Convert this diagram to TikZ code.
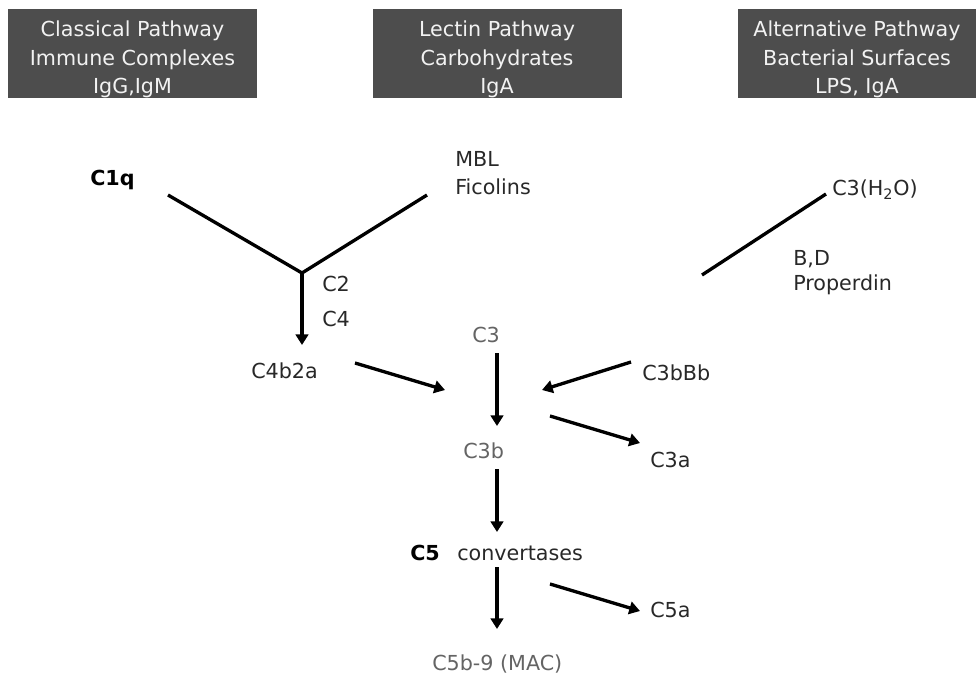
\documentclass[tikz,border=0pt]{standalone}
\usepackage{fontspec}
\setmainfont{DejaVu Sans}
\usetikzlibrary{arrows.meta,positioning}
\definecolor{BoxGray}{RGB}{77,77,77}
\definecolor{HeadInk}{RGB}{242,242,242}
\definecolor{InkDark}{RGB}{40,40,40}
\definecolor{InkGray}{RGB}{100,100,100}
\tikzset{
  headbox/.style={fill=BoxGray,inner sep=0pt,minimum height=66.75pt},
  headtext/.style={text=HeadInk,align=center,inner sep=0pt,
    font=\fontsize{15.5}{21.5}\selectfont},
  lbl/.style={anchor=base west,inner sep=0pt,text=InkDark,
    font=\fontsize{15.5}{20}\selectfont},
  lblgray/.style={lbl,text=InkGray},
  lblbold/.style={lbl,text=black,font=\fontsize{15.5}{20}\selectfont\bfseries},
  link/.style={line width=2.5pt},
  flow/.style={link,-{Triangle[length=8pt,width=9.5pt]}}
}

\begin{document}
\begin{tikzpicture}[x=0.75pt,y=-0.75pt]
  \useasboundingbox (0,0) rectangle (976,679);
  % pathway headers
  \node[headbox,minimum width=186.75pt] (classical) at (132.5,53.5) {};
  \node[headbox,minimum width=186.75pt] (lectin) at (497,53.5) {};
  \node[headbox,minimum width=178.5pt] (alternative) at (857,53.5) {};
  \node[headtext,yshift=-4.5pt] at (classical.center)
    {Classical Pathway\\Immune Complexes\\IgG,IgM};
  \node[headtext,yshift=-4.5pt] at (lectin.center)
    {Lectin Pathway\\Carbohydrates\\IgA};
  \node[headtext,yshift=-4.5pt] at (alternative.center)
    {Alternative Pathway\\Bacterial Surfaces\\LPS, IgA};

  % labels
  \node[lblbold] (c1q) at (90,185) {C1q};
  \node[lbl] (mbl) at (455,166.7) {MBL};
  \node[lbl] (ficolins) at (455,194) {Ficolins};
  \node[lbl] (c2) at (322,291.7) {C2};
  \node[lbl] (c4) at (322,326.7) {C4};
  \node[lbl] (c4b2a) at (251,378) {C4b2a};
  \node[lblgray] (c3) at (472,342) {C3};
  \node[lbl] (c3bbb) at (642,380) {C3bBb};
  \node[lblgray] (c3b) at (463,458) {C3b};
  \node[lbl] (c3a) at (650,467) {C3a};
  \node[lblbold] (c5) at (410,560) {C5};
  \node[lbl] (convertases) at (457,560) {convertases};
  \node[lbl] (c5a) at (650,617) {C5a};
  \node[lblgray] (mac) at (432,670) {C5b-9 (MAC)};
  \node[lbl] (c3h2o) at (832,195) {C3(H\textsubscript{2}O)};
  \node[lbl] (bd) at (793,265) {B,D};
  \node[lbl] (properdin) at (793,290) {Properdin};

  % connector ends
  \coordinate (c1q-end) at (168,195);
  \coordinate (mbl-end) at (427,195);
  \coordinate (join) at (302,273);
  \coordinate (c4b2a-in) at (302,345);
  \coordinate (c4b2a-out) at (355,363);
  \coordinate (c4b2a-tip) at (445,390);
  \coordinate (c3-out) at (497,353);
  \coordinate (c3b-in) at (497,426);
  \coordinate (c3bbb-out) at (631,362);
  \coordinate (c3bbb-tip) at (542,390);
  \coordinate (c3a-out) at (550,416);
  \coordinate (c3a-in) at (640,443);
  \coordinate (c3b-out) at (497,469);
  \coordinate (c5-in) at (497,532);
  \coordinate (c5-out) at (497,567);
  \coordinate (mac-in) at (497,629);
  \coordinate (c5a-out) at (550,584);
  \coordinate (c5a-in) at (640,611);
  \coordinate (c3h2o-end) at (826,194);
  \coordinate (alt-end) at (702,275);

  % connectors
  \draw[link] (c1q-end) -- (join) -- (mbl-end);
  \draw[flow] (join) -- (c4b2a-in);
  \draw[flow] (c4b2a-out) -- (c4b2a-tip);
  \draw[flow] (c3-out) -- (c3b-in);
  \draw[flow] (c3bbb-out) -- (c3bbb-tip);
  \draw[flow] (c3a-out) -- (c3a-in);
  \draw[flow] (c3b-out) -- (c5-in);
  \draw[flow] (c5-out) -- (mac-in);
  \draw[flow] (c5a-out) -- (c5a-in);
  \draw[link] (c3h2o-end) -- (alt-end);
\end{tikzpicture}
\end{document}
